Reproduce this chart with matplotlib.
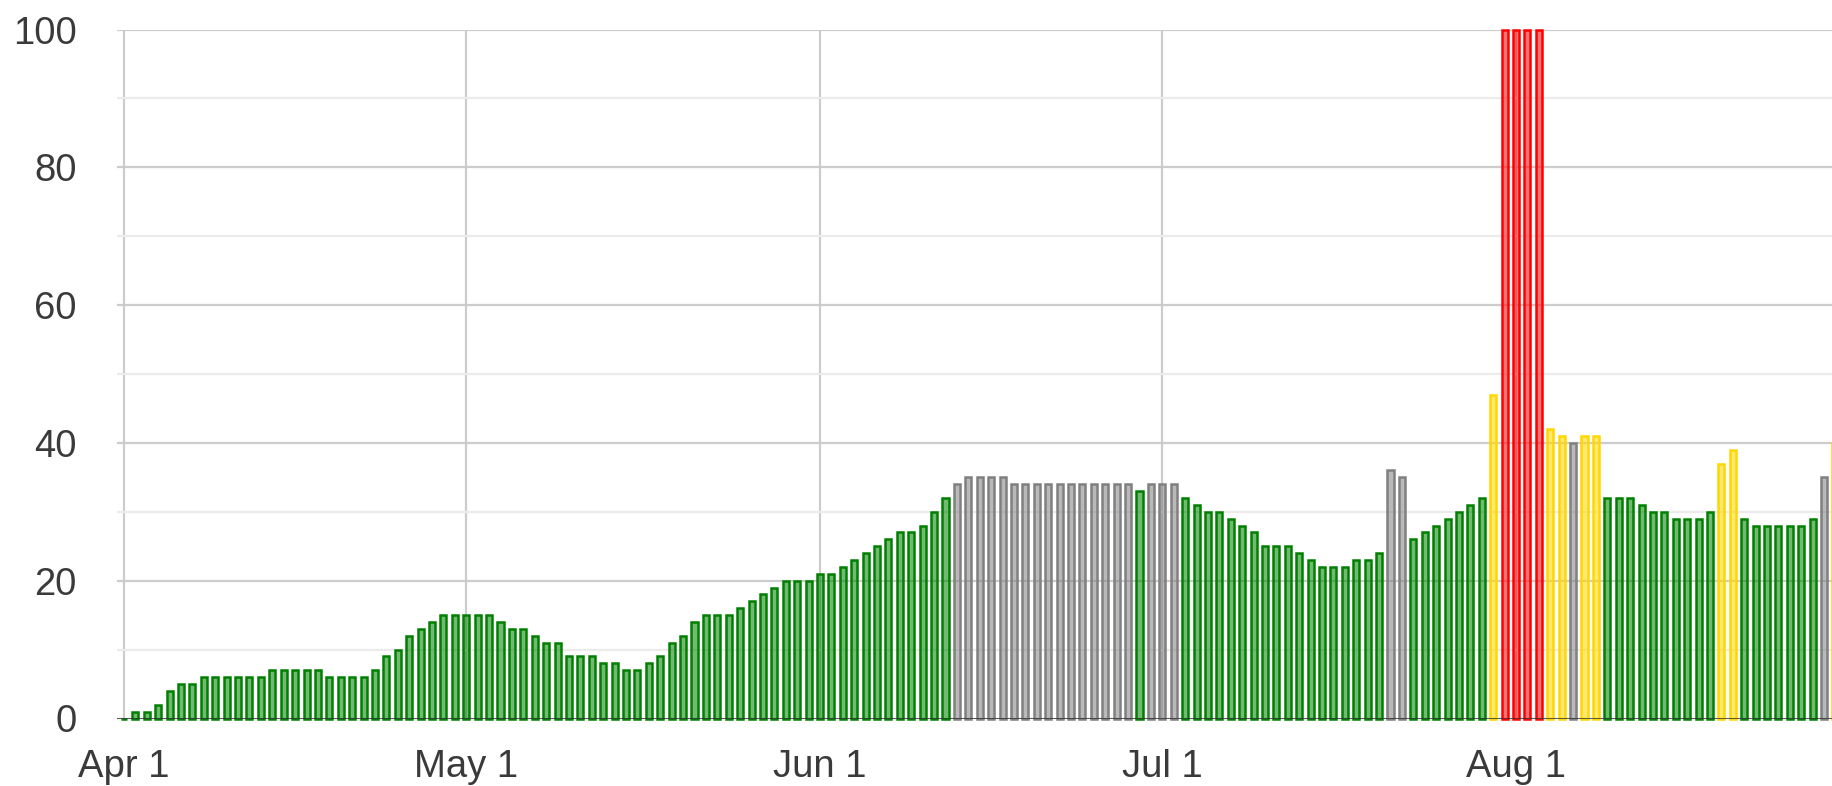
import matplotlib
matplotlib.use("Agg")
import matplotlib.pyplot as plt
import matplotlib.dates as mdates
from matplotlib.colors import to_rgba
import pandas as pd

# ---------------- data ----------------
start_date = "2021-04-01"

values = [
    0, 1, 1, 2, 4, 5, 5, 6, 6, 6,
    6, 6, 6, 7, 7, 7, 7, 7, 6, 6,
    6, 6, 7, 9, 10, 12, 13, 14, 15, 15,
    15, 15, 15, 14, 13, 13, 12, 11, 11, 9,
    9, 9, 8, 8, 7, 7, 8, 9, 11, 12,
    14, 15, 15, 15, 16, 17, 18, 19, 20, 20,
    20, 21, 21, 22, 23, 24, 25, 26, 27, 27,
    28, 30, 32, 34, 35, 35, 35, 35, 34, 34,
    34, 34, 34, 34, 34, 34, 34, 34, 34, 33,
    34, 34, 34, 32, 31, 30, 30, 29, 28, 27,
    25, 25, 25, 24, 23, 22, 22, 22, 23, 23,
    24, 36, 35, 26, 27, 28, 29, 30, 31, 32,
    47, 100, 100, 100, 100, 42, 41, 40, 41, 41,
    32, 32, 32, 31, 30, 30, 29, 29, 29, 30,
    37, 39, 29, 28, 28, 28, 28, 28, 29, 35,
    40,
]

# one status code per day: G=green, S=grey, Y=yellow, R=red
status = (
    "GGGGGGGGGG"
    "GGGGGGGGGG"
    "GGGGGGGGGG"
    "GGGGGGGGGG"
    "GGGGGGGGGG"
    "GGGGGGGGGG"
    "GGGGGGGGGG"
    "GGGSSSSSSS"
    "SSSSSSSSSG"
    "SSSGGGGGGG"
    "GGGGGGGGGG"
    "GSSGGGGGGG"
    "YRRRRYYSYY"
    "GGGGGGGGGG"
    "YYGGGGGGGS"
    "Y"
)

tick_dates = ["2021-04-01", "2021-05-01", "2021-06-01", "2021-07-01", "2021-08-01"]
tick_labels = ["Apr 1", "May 1", "Jun 1", "Jul 1", "Aug 1"]
y_ticks = [0, 20, 40, 60, 80, 100]
y_minor = [10, 30, 50, 70, 90]

stroke = {"G": "#008000", "S": "#808080", "Y": "#FFD700", "R": "#FF0000"}

# ---------------- plot ----------------
plt.rcParams["font.family"] = ["Liberation Sans", "DejaVu Sans"]

W, H = 1833, 786
fig = plt.figure(figsize=(W / 100, H / 100), dpi=100)
ax_left, ax_bottom_px, ax_top_px = 117, 718.5, 29.5
ax = fig.add_axes([ax_left / W, (H - ax_bottom_px) / H,
                   1 - ax_left / W, (ax_bottom_px - ax_top_px) / H])

dates = pd.date_range(start_date, periods=len(values), freq="D")
edges = [stroke[s] for s in status]
fills = [to_rgba(stroke[s], 0.55) for s in status]

bars = ax.bar(dates, values, width=0.53, facecolor=fills, edgecolor=edges,
              linewidth=1.8, zorder=2)
for b in bars:
    b.set_clip_on(False)

# axis ranges
d0 = mdates.date2num(pd.Timestamp(start_date))
ax.set_xlim(d0 - 0.61, d0 + 149.78)
ax.set_ylim(0, 100)

# ticks and grid
ax.set_xticks([mdates.date2num(pd.Timestamp(d)) for d in tick_dates])
ax.set_xticklabels(tick_labels)
ax.set_yticks(y_ticks)
ax.set_yticklabels([str(v) for v in y_ticks])
ax.set_yticks(y_minor, minor=True)

ax.set_axisbelow(True)
ax.grid(axis="y", which="major", color="#cccccc", linewidth=1.6)
ax.grid(axis="y", which="minor", color="#ebebeb", linewidth=1.6)
ax.grid(axis="x", which="major", color="#cccccc", linewidth=1.6)

ax.tick_params(axis="both", which="both", length=0, labelcolor="#3a3a3a",
               labelsize=27.5)
ax.tick_params(axis="x", pad=22)
ax.tick_params(axis="y", pad=29)

for sp in ax.spines.values():
    sp.set_visible(False)

ax.axhline(0, color="#333333", linewidth=1.8, zorder=3)

fig.savefig("out.png", dpi=100)
